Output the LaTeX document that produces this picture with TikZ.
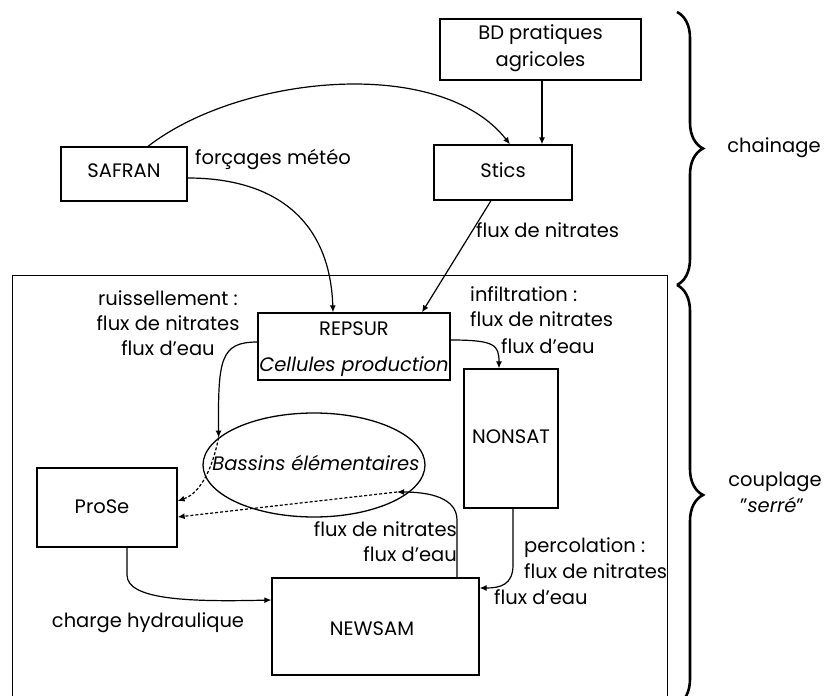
\documentclass[tikz,border=0pt]{standalone}
\usepackage{fontspec}
\setmainfont{Poppins}
\usetikzlibrary{arrows.meta,decorations.pathreplacing,shapes.geometric}
\begin{document}
\begin{tikzpicture}[x=1pt,y=-1pt,
  every node/.style={font=\fontsize{19.5}{23}\selectfont},
  box/.style={draw,line width=1.3pt,inner sep=0pt},
  lbl/.style={inner sep=0pt,text height=1.5ex,text depth=.3ex},
  conn/.style={line width=1.2pt,-{Latex[length=7pt,width=6pt]}},
  dconn/.style={line width=1.2pt,dash pattern=on 3pt off 2pt,-{Latex[length=7pt,width=6pt]}},
  brc/.style={line width=2.6pt,decoration={brace,amplitude=26pt,raise=0pt},decorate}]
\useasboundingbox (0,0) rectangle (828,696);
\clip (0,0) rectangle (828,696);
% boxes
\node[box,minimum width=126pt,minimum height=54pt] (safran) at (124,174) {};
\node[lbl] (safrant) at (124,174) {SAFRAN};
\node[box,minimum width=201pt,minimum height=61pt] (bd) at (540.5,49.5) {};
\node[lbl] (bdt1) at (540.5,36) {BD pratiques};
\node[lbl] (bdt2) at (540.5,63) {agricoles};
\node[box,minimum width=138pt,minimum height=55pt] (stics) at (503,172.5) {};
\node[lbl] (sticst) at (503,174) {Stics};
\node[box,minimum width=192pt,minimum height=67pt] (repsur) at (354,346.5) {};
\node[lbl] (repsurt) at (354,332) {REPSUR};
\node[lbl] (cellt) at (354,368) {\itshape Cellules production};
\node[box,minimum width=94pt,minimum height=139pt] (nonsat) at (511,438.5) {};
\node[lbl] (nonsatt) at (511,440) {NONSAT};
\node[box,minimum width=140pt,minimum height=79pt] (prose) at (107,507.5) {};
\node[lbl] (proset) at (102,510) {ProSe};
\node[box,minimum width=207pt,minimum height=97pt] (newsam) at (375.5,626.5) {};
\node[lbl] (newsamt) at (372,632) {NEWSAM};
\node[draw,ellipse,line width=1.3pt,minimum width=222pt,minimum height=104pt,inner sep=0pt] (bassins) at (314,465) {};
\node[lbl] (bassinst) at (316,467) {\itshape Bassins élémentaires};
\coordinate (bin) at (397,492);
% big frame
\coordinate (f1) at (12,700);
\coordinate (f2) at (12,275);
\coordinate (f3) at (667,275);
\coordinate (f4) at (667,700);
\draw[line width=0.8pt] (f1) -- (f2) -- (f3) -- (f4);
% braces
\coordinate (b1) at (677,12);
\coordinate (b2) at (677,285);
\coordinate (b3) at (677,705);
\draw[brc] (b1) -- (b2);
\draw[brc] (b2) -- (b3);
% labels
\node[lbl,anchor=west] (l1) at (195,161) {forçages météo};
\node[lbl,anchor=west] (l2) at (476,234) {flux de nitrates};
\node[lbl] (l3) at (774,149) {chainage};
\node[lbl] (r1) at (168,302) {ruissellement :};
\node[lbl] (r2) at (168,327) {flux de nitrates};
\node[lbl] (r3) at (168,352) {flux d'eau};
\node[lbl,anchor=west] (i1) at (470,298) {infiltration :};
\node[lbl,anchor=west] (i2) at (470,323) {flux de nitrates};
\node[lbl,anchor=west] (i3) at (501,350) {flux d'eau};
\node[lbl,anchor=east] (n1) at (457,533) {flux de nitrates};
\node[lbl,anchor=east] (n2) at (457,558) {flux d'eau};
\node[lbl,anchor=west] (p1) at (524,549) {percolation :};
\node[lbl,anchor=west] (p2) at (524,575) {flux de nitrates};
\node[lbl,anchor=west] (p3) at (494,601) {flux d'eau};
\node[lbl] (ch) at (148,624) {charge hydraulique};
\node[lbl] (c1) at (775,483) {couplage};
\node[lbl] (c2) at (772,509) {"\textit{serré}"};
% connectors
\draw[conn] ([xshift=24pt]safran.north) .. controls (240,75) and (440,55) .. ([xshift=7pt]stics.north);
\draw[conn] (bd.south -| 542,0) -- (stics.north -| 542,0);
\draw[conn] ([yshift=-4pt]safran.east) .. controls (275,178) and (330,220) .. ([xshift=-21pt]repsur.north);
\draw[conn] ([xshift=-12pt]stics.south) -- ([xshift=68pt]repsur.north);
\draw[conn] ([yshift=4.5pt]repsur.west) .. controls (220,342) and (218,360) .. (bassins.164);
\draw[conn] ([yshift=6.5pt]repsur.east) .. controls (495,340) and (499,345) .. ([xshift=-12pt]nonsat.north);
\draw[conn] ([xshift=2pt]nonsat.south) -- (513,565) .. controls (513,585) and (500,588) .. ([yshift=38.5pt]newsam.east);
\draw[conn] ([xshift=20pt]prose.south) -- (127,575) .. controls (127,600) and (190,602) .. ([yshift=26.5pt]newsam.west);
\draw[conn] ([xshift=81.5pt]newsam.north) -- (457,520) .. controls (457,498) and (430,492) .. (bin);
\draw[dconn] (bassins.164) .. controls (210,480) and (195,495) .. ([yshift=6.5pt]prose.east);
\draw[dconn] (bin) -- ([yshift=-9.5pt]prose.east);
\end{tikzpicture}
\end{document}
